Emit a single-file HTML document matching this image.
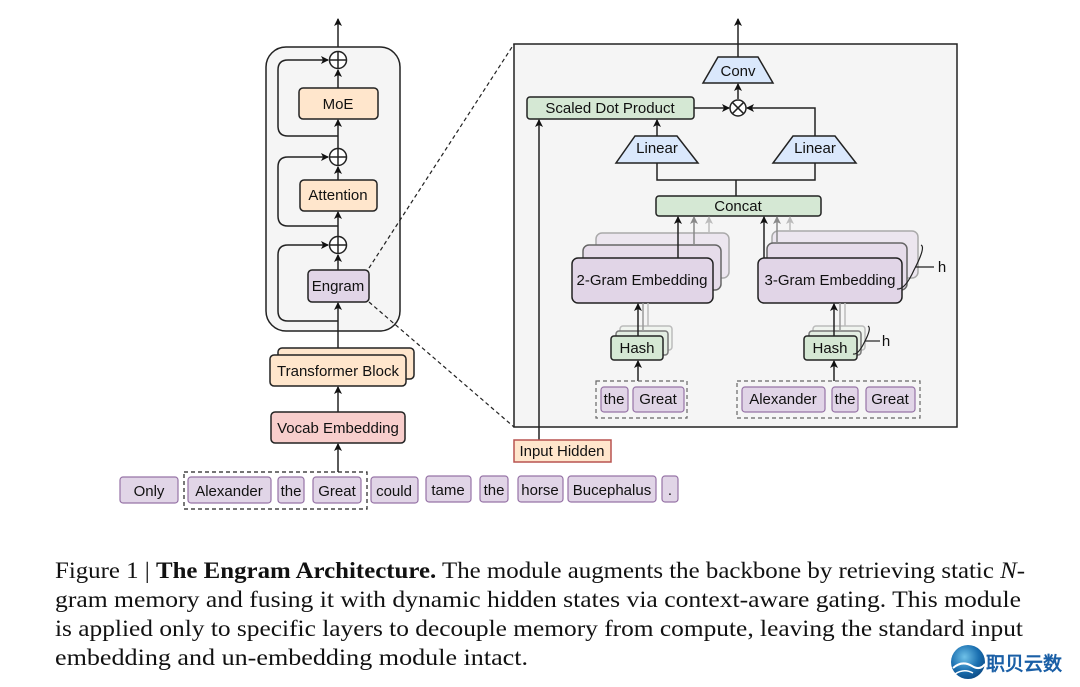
<!DOCTYPE html>
<html><head><meta charset="utf-8"><style>
html,body{margin:0;padding:0;background:#fff;}
svg{display:block;}
text{font-family:"Liberation Sans",sans-serif;}
.cap{font-family:"Liberation Serif",serif;font-size:23.5px;fill:#111;}
</style></head><body>
<svg width="1080" height="687" viewBox="0 0 1080 687" xmlns="http://www.w3.org/2000/svg">
<defs>
<marker id="a" markerWidth="8" markerHeight="8" refX="7" refY="4" orient="auto" markerUnits="userSpaceOnUse"><path d="M0,0 L8,4 L0,8 L2,4 z" fill="#111"/></marker>
<marker id="g1" markerWidth="8" markerHeight="8" refX="7" refY="4" orient="auto" markerUnits="userSpaceOnUse"><path d="M0,0 L8,4 L0,8 L2,4 z" fill="#888"/></marker>
<marker id="g2" markerWidth="8" markerHeight="8" refX="7" refY="4" orient="auto" markerUnits="userSpaceOnUse"><path d="M0,0 L8,4 L0,8 L2,4 z" fill="#bbb"/></marker>
<radialGradient id="lg" cx="40%" cy="35%" r="70%"><stop offset="0" stop-color="#6fc1e8"/><stop offset="0.6" stop-color="#1a6fb0"/><stop offset="1" stop-color="#0b4a85"/></radialGradient>
</defs>
<g stroke="#222" stroke-width="1.5" fill="none">
<rect x="266" y="47" width="134" height="284" rx="20" fill="#f5f5f5"/>
<line x1="338" y1="47" x2="338" y2="19" marker-end="url(#a)"/>
<circle cx="338" cy="60" r="8.5" fill="#fff"/><line x1="329.5" y1="60" x2="346.5" y2="60"/><line x1="338" y1="51.5" x2="338" y2="68.5"/>
<circle cx="338" cy="157" r="8.5" fill="#fff"/><line x1="329.5" y1="157" x2="346.5" y2="157"/><line x1="338" y1="148.5" x2="338" y2="165.5"/>
<circle cx="338" cy="245" r="8.5" fill="#fff"/><line x1="329.5" y1="245" x2="346.5" y2="245"/><line x1="338" y1="236.5" x2="338" y2="253.5"/>
<line x1="338" y1="88" x2="338" y2="70" marker-end="url(#a)"/>
<line x1="338" y1="148" x2="338" y2="120" marker-end="url(#a)"/>
<line x1="338" y1="180" x2="338" y2="167" marker-end="url(#a)"/>
<line x1="338" y1="236" x2="338" y2="212" marker-end="url(#a)"/>
<line x1="338" y1="270" x2="338" y2="255" marker-end="url(#a)"/>
<line x1="338" y1="355" x2="338" y2="303" marker-end="url(#a)"/>
<line x1="338" y1="412" x2="338" y2="387" marker-end="url(#a)"/>
<line x1="338" y1="472" x2="338" y2="444" marker-end="url(#a)"/>
<path d="M338,136 H288 Q278,136 278,126 V70 Q278,60 288,60 H328" marker-end="url(#a)"/>
<path d="M338,226 H288 Q278,226 278,216 V167 Q278,157 288,157 H328" marker-end="url(#a)"/>
<path d="M338,321 H288 Q278,321 278,311 V255 Q278,245 288,245 H328" marker-end="url(#a)"/>
<rect x="299" y="88" width="79" height="31" rx="4" fill="#ffe6cc"/>
<rect x="300" y="180" width="77" height="31" rx="4" fill="#ffe6cc"/>
<rect x="308" y="270" width="61" height="32" rx="4" fill="#e1d5e7"/>
<rect x="278" y="348" width="136" height="31" rx="4" fill="#ffe6cc"/>
<rect x="270" y="355" width="136" height="31" rx="4" fill="#ffe6cc"/>
<rect x="271" y="412" width="134" height="31" rx="4" fill="#f8cecc"/>
<rect x="184" y="472" width="183" height="37" stroke-dasharray="4,3" stroke-width="1.2"/>
<g fill="#e1d5e7" stroke="#9673a6" stroke-width="1.2">
<rect x="120" y="477" width="58" height="26" rx="3"/>
<rect x="188" y="477" width="83" height="26" rx="3"/>
<rect x="278" y="477" width="26" height="26" rx="3"/>
<rect x="313" y="477" width="48" height="26" rx="3"/>
<rect x="371" y="477" width="47" height="26" rx="3"/>
<rect x="426" y="476" width="45" height="26" rx="3"/>
<rect x="480" y="476" width="28" height="26" rx="3"/>
<rect x="518" y="476" width="45" height="26" rx="3"/>
<rect x="568" y="476" width="88" height="26" rx="3"/>
<rect x="662" y="476" width="16" height="26" rx="3"/>
</g>
<line x1="369" y1="268" x2="514" y2="44" stroke-dasharray="4,3" stroke-width="1.2"/>
<line x1="369" y1="302" x2="514" y2="427" stroke-dasharray="4,3" stroke-width="1.2"/>
<rect x="514" y="44" width="443" height="383" fill="#f5f5f5"/>
<line x1="738" y1="57" x2="738" y2="19" marker-end="url(#a)"/>
<path d="M718,57 H758 L773,83 H703 Z" fill="#dae8fc"/>
<line x1="738" y1="99" x2="738" y2="84" marker-end="url(#a)"/>
<circle cx="738" cy="108" r="8" fill="#fff"/><line x1="732.3" y1="102.3" x2="743.7" y2="113.7"/><line x1="743.7" y1="102.3" x2="732.3" y2="113.7"/>
<rect x="527" y="97" width="167" height="22" rx="3" fill="#d5e8d4"/>
<line x1="694" y1="108" x2="729" y2="108" marker-end="url(#a)"/>
<path d="M815,136 V108 H747" marker-end="url(#a)"/>
<line x1="539" y1="440" x2="539" y2="120" marker-end="url(#a)"/>
<line x1="657" y1="136" x2="657" y2="120" marker-end="url(#a)"/>
<path d="M635,136 H677 L698,163 H616 Z" fill="#dae8fc"/>
<path d="M793,136 H835 L856,163 H773 Z" fill="#dae8fc"/>
<path d="M657,163 V180 H815 V163 M736,180 V196"/>
<rect x="656" y="196" width="165" height="20" rx="3" fill="#d5e8d4"/>
<rect x="596" y="233" width="133" height="45" rx="6" fill="#ece6ef" stroke="#aaa"/>
<rect x="583" y="245" width="138" height="45" rx="6" fill="#e6dcea" stroke="#666"/>
<rect x="572" y="258" width="141" height="45" rx="6" fill="#e1d5e7"/>
<line x1="678" y1="258" x2="678" y2="217" marker-end="url(#a)"/>
<line x1="694" y1="245" x2="694" y2="217" stroke="#888" marker-end="url(#g1)"/>
<line x1="709" y1="233" x2="709" y2="217" stroke="#bbb" marker-end="url(#g2)"/>
<rect x="772" y="231" width="146" height="47" rx="6" fill="#ece6ef" stroke="#aaa"/>
<rect x="767" y="243" width="140" height="47" rx="6" fill="#e6dcea" stroke="#666"/>
<rect x="758" y="258" width="144" height="45" rx="6" fill="#e1d5e7"/>
<line x1="764" y1="258" x2="764" y2="217" marker-end="url(#a)"/>
<line x1="777" y1="243" x2="777" y2="217" stroke="#888" marker-end="url(#g1)"/>
<line x1="790" y1="231" x2="790" y2="217" stroke="#bbb" marker-end="url(#g2)"/>
<path d="M921,245 Q926,247 914,270 Q905,290 897,289" stroke-width="1.2"/>
<line x1="915" y1="267" x2="934" y2="267" stroke-width="1.2"/>
<rect x="620" y="326" width="52" height="24" rx="3" fill="#f0f4ef" stroke="#bbb"/>
<rect x="616" y="331" width="52" height="24" rx="3" fill="#e3ede2" stroke="#777"/>
<line x1="643" y1="303" x2="643" y2="331" stroke="#999"/><line x1="648" y1="303" x2="648" y2="326" stroke="#bbb"/>
<rect x="611" y="336" width="52" height="24" rx="3" fill="#d5e8d4"/>
<line x1="638" y1="336" x2="638" y2="304" marker-end="url(#a)"/>
<line x1="638" y1="381" x2="638" y2="361" marker-end="url(#a)"/>
<rect x="813" y="326" width="52" height="24" rx="3" fill="#f0f4ef" stroke="#bbb"/>
<rect x="809" y="331" width="52" height="24" rx="3" fill="#e3ede2" stroke="#777"/>
<line x1="840" y1="303" x2="840" y2="331" stroke="#999"/><line x1="845" y1="303" x2="845" y2="326" stroke="#bbb"/>
<rect x="804" y="336" width="53" height="24" rx="3" fill="#d5e8d4"/>
<line x1="834" y1="336" x2="834" y2="304" marker-end="url(#a)"/>
<line x1="834" y1="381" x2="834" y2="361" marker-end="url(#a)"/>
<path d="M868,326 Q872,328 864,343 Q858,355 853,354" stroke-width="1.2"/>
<line x1="865" y1="341" x2="880" y2="341" stroke-width="1.2"/>
<rect x="596" y="381" width="91" height="37" stroke-dasharray="4,3" stroke="#666" stroke-width="1.2"/>
<rect x="737" y="381" width="183" height="37" stroke-dasharray="4,3" stroke="#666" stroke-width="1.2"/>
<g fill="#e1d5e7" stroke="#9673a6" stroke-width="1.2">
<rect x="601" y="387" width="27" height="25" rx="3"/>
<rect x="633" y="387" width="51" height="25" rx="3"/>
<rect x="742" y="387" width="83" height="25" rx="3"/>
<rect x="832" y="387" width="26" height="25" rx="3"/>
<rect x="866" y="387" width="49" height="25" rx="3"/>
</g>
<rect x="514" y="440" width="97" height="22" fill="#ffe6cc" stroke="#b85450"/>
</g>
<g font-size="15" fill="#111" text-anchor="middle">
<text x="338" y="109">MoE</text>
<text x="338" y="200">Attention</text>
<text x="338" y="291">Engram</text>
<text x="338" y="376">Transformer Block</text>
<text x="338" y="433">Vocab Embedding</text>
<text x="149" y="496">Only</text>
<text x="229" y="496">Alexander</text>
<text x="291" y="496">the</text>
<text x="337" y="496">Great</text>
<text x="394" y="496">could</text>
<text x="448" y="495">tame</text>
<text x="494" y="495">the</text>
<text x="540" y="495">horse</text>
<text x="612" y="495">Bucephalus</text>
<text x="670" y="495">.</text>
<text x="738" y="76">Conv</text>
<text x="610" y="113">Scaled Dot Product</text>
<text x="657" y="153">Linear</text>
<text x="815" y="153">Linear</text>
<text x="738" y="211">Concat</text>
<text x="642" y="285">2-Gram Embedding</text>
<text x="830" y="285">3-Gram Embedding</text>
<text x="637" y="353">Hash</text>
<text x="830" y="353">Hash</text>
<text x="614" y="404">the</text>
<text x="658" y="404">Great</text>
<text x="783" y="404">Alexander</text>
<text x="845" y="404">the</text>
<text x="890" y="404">Great</text>
<text x="562" y="456">Input Hidden</text>
<text x="942" y="272">h</text>
<text x="886" y="346">h</text>
</g>
<text class="cap" x="55" y="578" textLength="970" lengthAdjust="spacingAndGlyphs">Figure 1 | <tspan font-weight="bold">The Engram Architecture.</tspan> The module augments the backbone by retrieving static <tspan font-style="italic">N</tspan>-</text>
<text class="cap" x="55" y="607" textLength="966" lengthAdjust="spacingAndGlyphs">gram memory and fusing it with dynamic hidden states via context-aware gating. This module</text>
<text class="cap" x="55" y="636" textLength="968" lengthAdjust="spacingAndGlyphs">is applied only to specific layers to decouple memory from compute, leaving the standard input</text>
<text class="cap" x="55" y="665" textLength="473" lengthAdjust="spacingAndGlyphs">embedding and un-embedding module intact.</text>
<circle cx="968" cy="662" r="17" fill="url(#lg)"/>
<path d="M953,668 Q962,660 972,666 Q980,671 985,664" stroke="#fff" stroke-width="2" fill="none"/>
<path d="M955,674 Q964,668 973,673" stroke="#fff" stroke-width="1.5" fill="none"/>
<text x="986" y="670" font-size="19" fill="#1a5fa6" font-family="'Noto Sans CJK SC',sans-serif" font-weight="bold">职贝云数</text>
</svg>
</body></html>
